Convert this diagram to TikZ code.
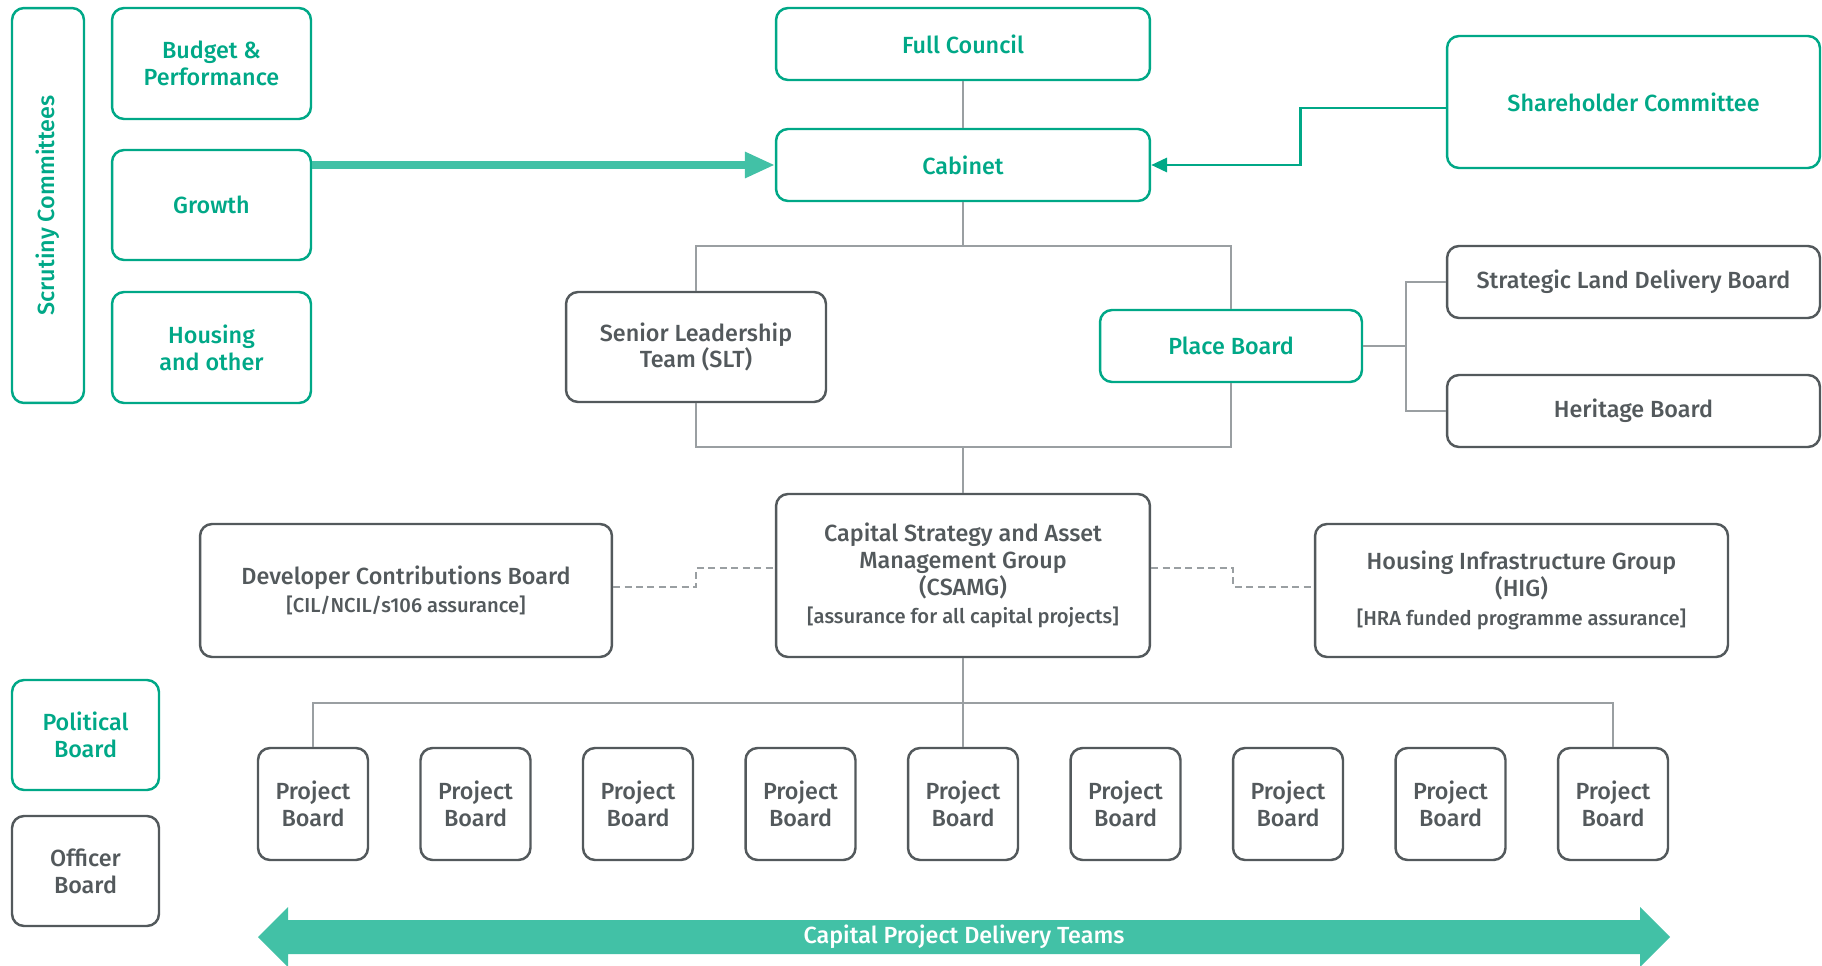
\documentclass[tikz,border=0pt]{standalone}
\usepackage{fontspec}
\setmainfont{Fira Sans}[UprightFont=* Medium,BoldFont=* Bold]
\usetikzlibrary{arrows.meta}

\definecolor{brandgreen}{HTML}{00A887}
\definecolor{arrowgreen}{HTML}{42C1A6}
\definecolor{boxgrey}{HTML}{53595C}
\definecolor{linegrey}{HTML}{9A9FA2}
\newcommand{\subsize}{\fontsize{11.5}{13}\selectfont}

\begin{document}
\begin{tikzpicture}[x=0.02cm,y=-0.02cm,
        box/.style={draw,rounded corners=0.24cm,line width=1.4pt,align=center,
                    inner sep=2pt,font=\fontsize{13.3}{15.3}\selectfont},
        greenbox/.style={box,draw=brandgreen,text=brandgreen},
        greybox/.style={box,draw=boxgrey,text=boxgrey},
        link/.style={draw=linegrey,line width=1.1pt},
        dashlink/.style={link,dash pattern=on 4pt off 2.5pt}]
        \useasboundingbox (0,0) rectangle (1822,966);

        % scrutiny side
        \node[greenbox,rotate=90,minimum width=7.9cm,minimum height=1.44cm] (scrut) at (48,205.5) {Scrutiny Committees};
        \node[greenbox,minimum width=3.98cm,minimum height=2.22cm] (budget)  at (211.5,63.5)  {Budget \&\\Performance};
        \node[greenbox,minimum width=3.98cm,minimum height=2.2cm]  (growth)  at (211.5,205)   {Growth};
        \node[greenbox,minimum width=3.98cm,minimum height=2.22cm] (housing) at (211.5,347.5) {Housing\\and other};

        % council and cabinet
        \node[greenbox,minimum width=7.48cm,minimum height=1.44cm] (council) at (963,44)  {Full Council};
        \node[greenbox,minimum width=7.48cm,minimum height=1.44cm] (cabinet) at (963,165) {Cabinet};
        \node[greenbox,minimum width=7.46cm,minimum height=2.64cm] (share)   at (1633.5,102) {Shareholder Committee};

        \node[greybox,minimum width=5.2cm,minimum height=2.2cm]    (slt)   at (696,347)  {Senior Leadership\\Team (SLT)};
        \node[greenbox,minimum width=5.24cm,minimum height=1.44cm] (place) at (1231,346) {Place Board};
        \node[greybox,minimum width=7.46cm,minimum height=1.44cm]  (sldb)     at (1633.5,282) {Strategic Land Delivery Board};
        \node[greybox,minimum width=7.46cm,minimum height=1.44cm]  (heritage) at (1633.5,411) {Heritage Board};

        % assurance groups
        \node[greybox,minimum width=7.48cm,minimum height=3.26cm] (csamg) at (963,575.5)
            {Capital Strategy and Asset\\Management Group\\(CSAMG)\\[1pt]{\subsize [assurance for all capital projects]}};
        \node[greybox,minimum width=8.24cm,minimum height=2.66cm] (dcb) at (406,590.5)
            {Developer Contributions Board\\[1pt]{\subsize [CIL/NCIL/s106 assurance]}};
        \node[greybox,minimum width=8.26cm,minimum height=2.66cm] (hig) at (1521.5,590.5)
            {Housing Infrastructure Group\\(HIG)\\[1pt]{\subsize [HRA funded programme assurance]}};

        \foreach \i in {1,...,9}
            \node[greybox,minimum width=2.2cm,minimum height=2.24cm] (pb\i) at ({313+162.5*(\i-1)},804) {Project\\Board};

        % key
        \node[greenbox,minimum width=2.94cm,minimum height=2.2cm] (political) at (85.5,735) {Political\\Board};
        \node[greybox,minimum width=2.94cm,minimum height=2.2cm]  (officer)   at (85.5,871) {Officer\\Board};

        % connectors
        \coordinate (topbar) at (963,246);
        \coordinate (midbar) at (963,447);
        \coordinate (fork)   at (1406,346);
        \coordinate (lowbar) at (963,703);

        \draw[link] (council) -- (cabinet);
        \draw[link] (cabinet) -- (topbar);
        \draw[link] (slt.north) |- (topbar) -| (place.north);
        \draw[link] (slt.south) |- (midbar) -| (place.south);
        \draw[link] (midbar) -- (csamg.north);
        \draw[link] (place.east) -- (fork);
        \draw[link] (sldb.west) -| (fork) |- (heritage.west);
        \draw[link] (csamg) -- (pb5);
        \draw[link] (pb1.north) |- (lowbar) -| (pb9.north);

        \draw[dashlink] ([yshift=0.07cm]dcb.east) -- ++(83,0) |- ([yshift=0.15cm]csamg.west);
        \draw[dashlink] ([yshift=0.15cm]csamg.east) -- ++(82,0) |- ([yshift=0.07cm]hig.west);

        \draw[arrowgreen,line width=4pt,-{Triangle[length=17pt,width=14pt]}] (growth.east |- cabinet.west) -- (cabinet.west);
        \draw[brandgreen,line width=1.6pt,-{Triangle[length=9pt,width=8pt]}] ([yshift=-0.12cm]share.west) -- ++(-145,0) |- (cabinet.east);

        % delivery teams band
        \fill[arrowgreen] (258,937) -- (288,907) -- (288,920) -- (1640,920) -- (1640,907) -- (1670,937)
            -- (1640,967) -- (1640,954) -- (288,954) -- (288,967) -- cycle;
        \node[text=white,font=\fontsize{13.3}{15.3}\selectfont] (teams) at (964,937) {Capital Project Delivery Teams};
\end{tikzpicture}
\end{document}
